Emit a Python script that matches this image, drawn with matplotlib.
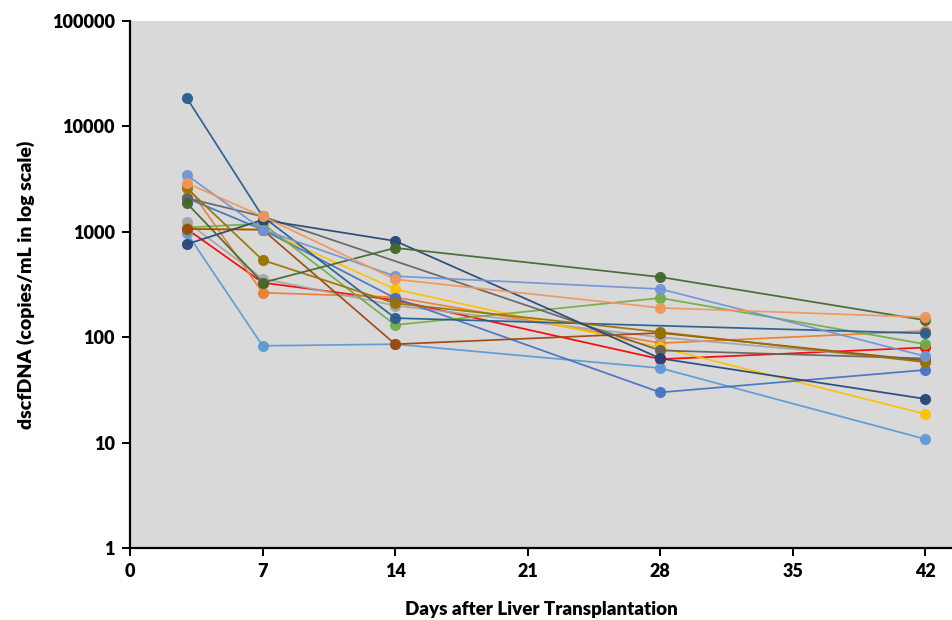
import numpy as np
import matplotlib
matplotlib.use("Agg")
import matplotlib.pyplot as plt
from matplotlib.ticker import FixedLocator, FuncFormatter, NullLocator

# Days of sampling after transplantation
days = [3, 7, 14, 28, 42]

# dscfDNA copies/mL per patient (nan = no sample)
nan = np.nan
red_patient = [1065, 330, 225, 62, 80]
light_blue = [975, 83, 86, 51, 10.8]
orange = [2770, 265, 240, 88, 115]
gray = [1240, 360, 200, 100, 60]
gold = [1065, 1050, 286, 80, 18.7]
blue = [2090, 1050, 235, 30, 49]
green = [1100, 1200, 131, 236, 86]
dark_blue = [18600, 1400, 152, nan, 109]
brown = [1065, 1050, 86, 110, 60]
dark_gray = [2090, 1400, nan, 75, 63]
olive = [2600, 540, 210, 112, 58]
navy = [765, 1300, 820, 63, 26]
dark_green = [1870, 330, 705, 373, 145]
cornflower = [3460, 1050, 380, 287, 66]
light_orange = [2900, 1400, 355, 190, 155]

series = [
    (red_patient, "#FF0000"),
    (light_blue, "#5B9BD5"),
    (orange, "#ED7D31"),
    (gray, "#A5A5A5"),
    (gold, "#FFC000"),
    (blue, "#4472C4"),
    (green, "#70AD47"),
    (dark_blue, "#255E91"),
    (brown, "#9E480E"),
    (dark_gray, "#636363"),
    (olive, "#997300"),
    (navy, "#264478"),
    (dark_green, "#43682B"),
    (cornflower, "#6F95D8"),
    (light_orange, "#F1975A"),
]

y_ticks = [1, 10, 100, 1000, 10000, 100000]
x_ticks = [0, 7, 14, 21, 28, 35, 42]

plt.rcParams["font.family"] = ["Lato", "DejaVu Sans"]

fig = plt.figure(figsize=(9.52, 6.2), dpi=100)
ax = fig.add_axes([0.1366, 0.116, 0.8634, 0.85])
ax.set_facecolor("#D9D9D9")

x = np.array(days, dtype=float)
for values, color in series:
    y = np.array(values, dtype=float)
    ok = ~np.isnan(y)
    ax.plot(x[ok], y[ok], color=color, linewidth=1.25, marker="o",
            markersize=8, markeredgewidth=0, alpha=0.95)

ax.set_yscale("log")
ax.set_ylim(1, 100000)
ax.set_xlim(0, 43.4)
ax.yaxis.set_major_locator(FixedLocator(y_ticks))
ax.yaxis.set_minor_locator(NullLocator())
ax.yaxis.set_major_formatter(FuncFormatter(lambda v, p: f"{int(round(v))}"))
ax.xaxis.set_major_locator(FixedLocator(x_ticks))

for side in ["top", "right"]:
    ax.spines[side].set_visible(False)
for side in ["left", "bottom"]:
    ax.spines[side].set_linewidth(1.6)
    ax.spines[side].set_color("black")

ax.tick_params(axis="both", direction="out", length=6, width=1.4,
               labelsize=13, pad=5)
for lbl in ax.get_xticklabels() + ax.get_yticklabels():
    lbl.set_fontweight("heavy")

ax.set_xlabel("Days after Liver Transplantation", fontsize=13.5,
              fontweight="heavy", labelpad=15)
ax.set_ylabel("dscfDNA (copies/mL in log scale)", fontsize=14,
              fontweight="heavy", labelpad=12)

fig.savefig("out.png", dpi=100)
